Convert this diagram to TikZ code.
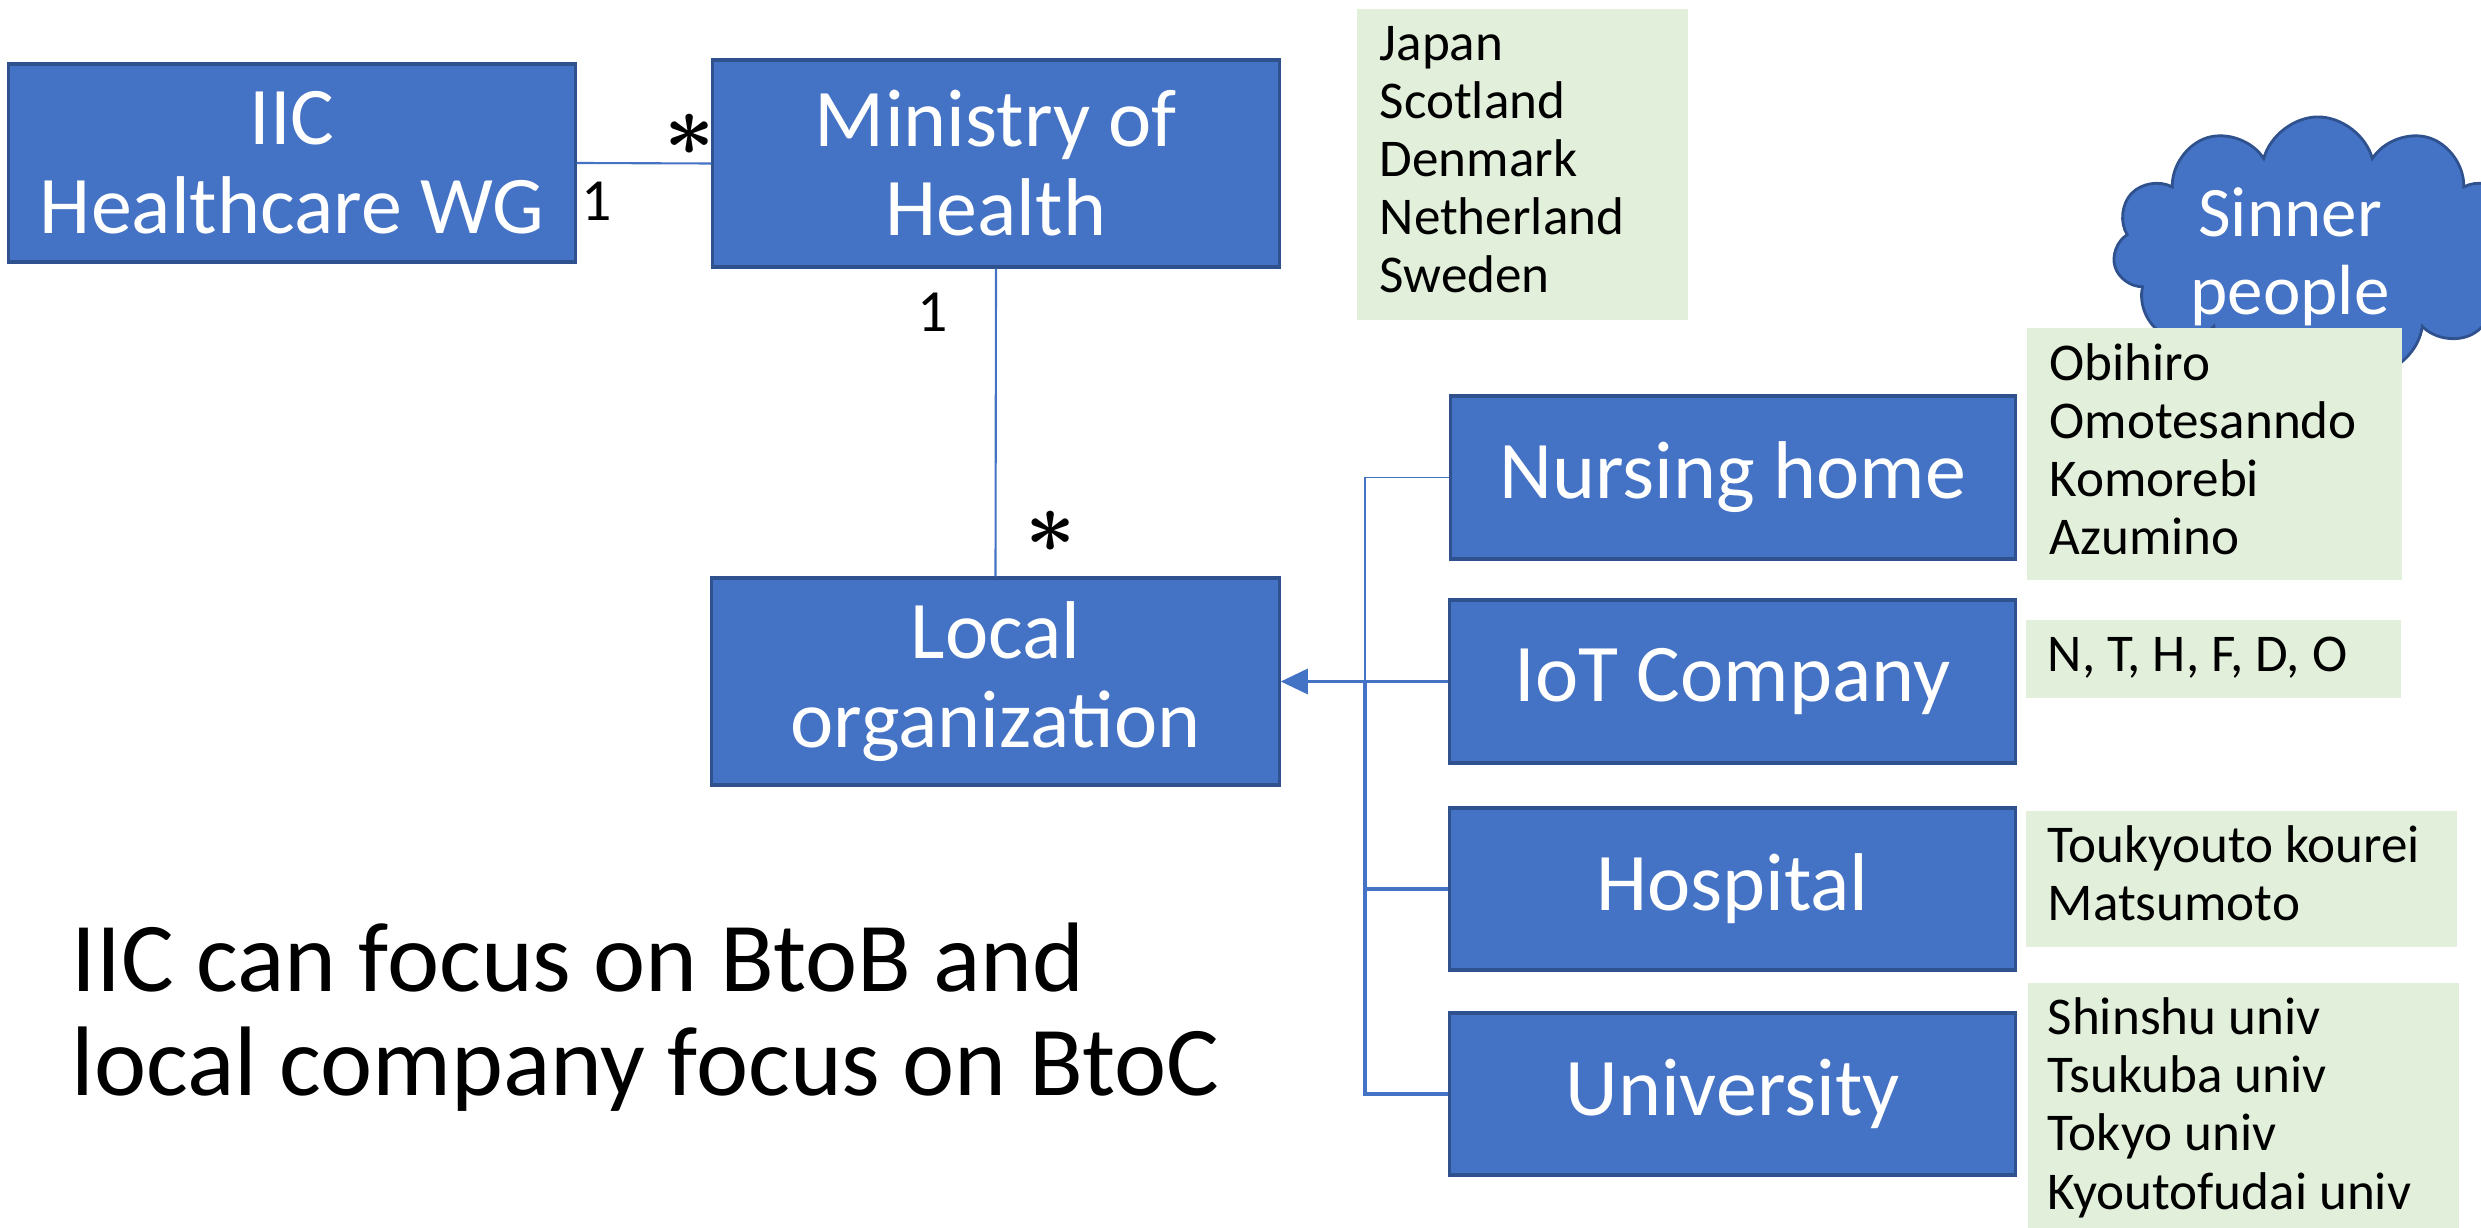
\documentclass[tikz,border=0pt]{standalone}
\usepackage{fontspec}
\setmainfont{Carlito}
\usetikzlibrary{shapes.symbols,arrows.meta}
\definecolor{boxblue}{HTML}{4472C4}
\definecolor{edgeblue}{HTML}{2F528F}
\definecolor{listgreen}{HTML}{E2EFDA}
\begin{document}
\begin{tikzpicture}[x=0.01cm,y=-0.01cm,
  bluebox/.style={draw=edgeblue,line width=0.9pt,fill=boxblue,text=white,align=center,inner sep=0pt,font=\fontsize{23.3pt}{25.3pt}\selectfont},
  listbox/.style={fill=listgreen,draw=none,inner sep=0pt,anchor=north west},
  listtext/.style={anchor=base west,align=left,inner sep=0pt,font=\fontsize{15.1pt}{16.5pt}\selectfont},
  conn/.style={draw=boxblue,line width=0.6pt},
  mult/.style={inner sep=0pt,font=\fontsize{17pt}{17pt}\selectfont},
  starlbl/.style={inner sep=0pt,font=\fontsize{24.88pt}{26pt}\selectfont\boldmath}]
\useasboundingbox (0,0) rectangle (2481,1228);
\clip (0,0) rectangle (2481,1228);

% cloud
\node[cloud, cloud puffs=11, cloud ignores aspect, draw=edgeblue, fill=boxblue, line width=0.8pt,
      minimum width=4.1cm, minimum height=2.62cm] (cloud) at (2318,248) {};
\node[text=white, align=center, inner sep=0pt,
      font=\fontsize{20.2pt}{22.2pt}\selectfont] (cloudtext) at (2290,257) {Sinner\\people};

% blue boxes
\node[bluebox,minimum width=5.66cm,minimum height=1.98cm] (iic) at (292,163) {IIC\\Healthcare WG};
\node[bluebox,minimum width=5.66cm,minimum height=2.07cm] (moh) at (996,163.5) {Ministry of\\Health};
\node[bluebox,minimum width=5.67cm,minimum height=2.07cm] (loc) at (995.5,681.5) {Local\\organization};
\node[bluebox,minimum width=5.64cm,minimum height=1.63cm] (nh) at (1733,477.5) {Nursing home};
\node[bluebox,minimum width=5.65cm,minimum height=1.63cm] (iot) at (1732.5,681.5) {IoT Company};
\node[bluebox,minimum width=5.65cm,minimum height=1.62cm] (hosp) at (1732.5,889) {Hospital};
\node[bluebox,minimum width=5.65cm,minimum height=1.62cm] (uni) at (1732.5,1094) {University};

% green lists (anchor at the baseline of the last line)
\node[listbox,minimum width=3.31cm,minimum height=3.11cm] (gc) at (1356,8) {};
\node[listtext] (gct) at (1379,293) {Japan\\Scotland\\Denmark\\Netherland\\Sweden};
\node[listbox,minimum width=3.75cm,minimum height=2.52cm] (gn) at (2026,327) {};
\node[listtext] (gnt) at (2049,555) {Obihiro\\Omotesanndo\\Komorebi\\Azumino};
\node[listbox,minimum width=3.75cm,minimum height=0.78cm] (gi) at (2025,619) {};
\node[listtext] (git) at (2047,672) {N, T, H, F, D, O};
\node[listbox,minimum width=4.31cm,minimum height=1.36cm] (gh) at (2025,810) {};
\node[listtext] (ght) at (2047,921) {Toukyouto kourei\\Matsumoto};
\node[listbox,minimum width=4.31cm,minimum height=2.5cm] (gu) at (2027,982) {};
\node[listtext] (gut) at (2047,1209) {Shinshu univ\\Tsukuba univ\\Tokyo univ\\Kyoutofudai univ};

% connectors
\draw[conn] (iic.east) -- (moh.west);
\draw[conn] (moh.south) -- (loc.north);
\coordinate (bus) at (1365,0);
\draw[conn,line width=0.5pt] (nh.west) -- (nh.west -| bus) -- (iot.west -| bus);
\draw[conn,line width=0.9pt] (iot.west -| bus) -- (uni.west -| bus) -- (uni.west);
\draw[conn,line width=0.9pt] (hosp.west) -- (hosp.west -| bus);
\draw[conn,line width=0.9pt,-{Triangle[length=0.27cm,width=0.25cm]}] (iot.west) -- (loc.east);

% multiplicities
\node[starlbl] (s1) at (690,135) {$\ast$};
\node[mult] (m1) at (597,201) {1};
\node[mult] (m2) at (933,312) {1};
\node[starlbl] (s2) at (1051,532) {$\ast$};

% note
\node[anchor=base west,align=left,inner sep=0pt,font=\fontsize{28.1pt}{29.3pt}\selectfont] (note) at (71,1095)
  {IIC can focus on BtoB and\\local company focus on BtoC};
\end{tikzpicture}
\end{document}
